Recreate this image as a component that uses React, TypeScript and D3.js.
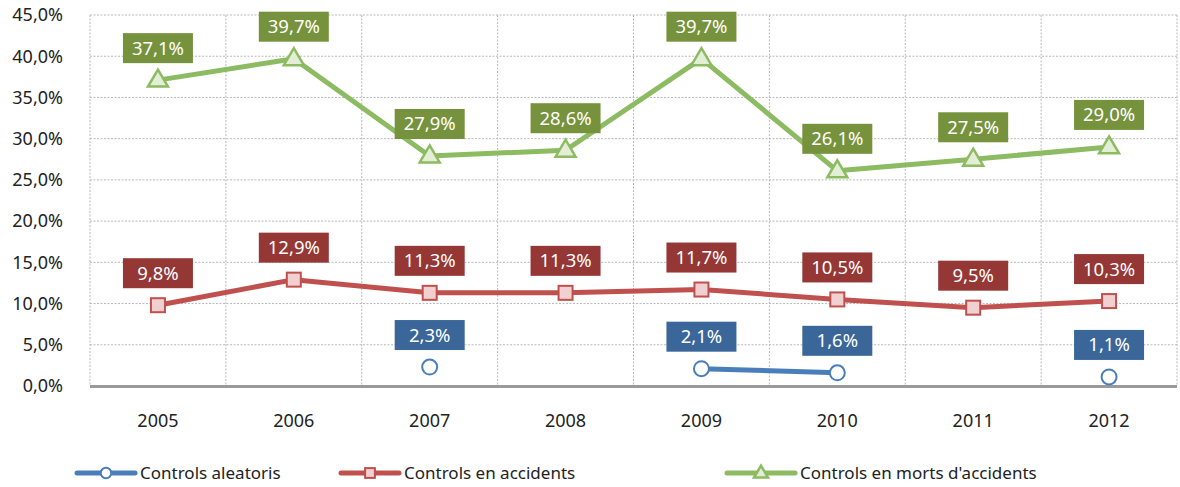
import { useEffect, useRef } from "react";
import * as d3 from "d3";

const years = ["2005", "2006", "2007", "2008", "2009", "2010", "2011", "2012"];
const aleatoris: (number | null)[] = [null, null, 2.3, null, 2.1, 1.6, null, 1.1];
const accidents: (number | null)[] = [9.8, 12.9, 11.3, 11.3, 11.7, 10.5, 9.5, 10.3];
const morts: (number | null)[] = [37.1, 39.7, 27.9, 28.6, 39.7, 26.1, 27.5, 29.0];
const yTicks = [0, 5, 10, 15, 20, 25, 30, 35, 40, 45];

const series = [
  { name: "Controls aleatoris", values: aleatoris, line: "#4a7ebb", box: "#3a6699", fill: "#ffffff", marker: "circle" },
  { name: "Controls en accidents", values: accidents, line: "#c0504d", box: "#953735", fill: "#f0d0d0", marker: "square" },
  { name: "Controls en morts d'accidents", values: morts, line: "#8cbb61", box: "#76923c", fill: "#e2eed6", marker: "triangle" },
];

const fmt = (v: number) => v.toFixed(1).replace(".", ",") + "%";
const FONT = "'Noto Sans', 'Open Sans', sans-serif";

function drawMarker(g: any, kind: string, x: number, y: number, stroke: string, fill: string, scale = 1) {
  if (kind === "circle") {
    g.append("circle").attr("cx", x).attr("cy", y).attr("r", 7.5 * scale)
      .attr("fill", fill).attr("stroke", stroke).attr("stroke-width", 2);
  } else if (kind === "square") {
    const s = 14 * scale;
    g.append("rect").attr("x", x - s / 2).attr("y", y - s / 2).attr("width", s).attr("height", s)
      .attr("fill", fill).attr("stroke", stroke).attr("stroke-width", 2);
  } else {
    const w = 20 * scale, h = 17 * scale;
    g.append("path")
      .attr("d", `M${x},${y - h * 0.62}L${x + w / 2},${y + h * 0.38}L${x - w / 2},${y + h * 0.38}Z`)
      .attr("fill", fill).attr("stroke", stroke).attr("stroke-width", 2.5).attr("stroke-linejoin", "miter");
  }
}

export default function App() {
  const ref = useRef<SVGSVGElement>(null);

  useEffect(() => {
    const svg = d3.select(ref.current);
    svg.selectAll("*").remove();

    const left = 90, right = 1177, top = 15, bottom = 386;
    const x = d3.scaleBand().domain(years).range([left, right]);
    const y = d3.scaleLinear().domain([0, 45]).range([bottom, top]);
    const cx = (d: string) => (x(d) as number) + x.bandwidth() / 2;

    // horizontal gridlines
    svg.append("g").selectAll("line").data(yTicks.filter((t) => t > 0)).enter().append("line")
      .attr("x1", left).attr("x2", right).attr("y1", (d) => y(d)).attr("y2", (d) => y(d))
      .attr("stroke", "#b8b8b8").attr("stroke-width", 1).attr("stroke-dasharray", "2,1.5");

    // vertical gridlines
    const vx = years.map((d) => x(d) as number).concat([right]);
    svg.append("g").selectAll("line").data(vx).enter().append("line")
      .attr("x1", (d) => d).attr("x2", (d) => d).attr("y1", top).attr("y2", bottom)
      .attr("stroke", "#b8b8b8").attr("stroke-width", 1).attr("stroke-dasharray", "2,1.5");

    // x axis line
    svg.append("line").attr("x1", left).attr("x2", right).attr("y1", bottom + 0.5).attr("y2", bottom + 0.5)
      .attr("stroke", "#9a9a9a").attr("stroke-width", 3);

    // y tick labels
    svg.append("g").selectAll("text").data(yTicks).enter().append("text")
      .attr("x", 63).attr("y", (d) => y(d)).attr("dy", "0.35em").attr("text-anchor", "end")
      .attr("font-family", FONT).attr("font-size", 18).attr("fill", "#222")
      .text((d) => fmt(d));

    // x tick labels
    svg.append("g").selectAll("text").data(years).enter().append("text")
      .attr("x", (d) => cx(d)).attr("y", 427).attr("text-anchor", "middle")
      .attr("font-family", FONT).attr("font-size", 18).attr("fill", "#222")
      .text((d) => d);

    const line = d3.line<number | null>()
      .defined((d) => d !== null)
      .x((_, i) => cx(years[i]))
      .y((d) => y(d as number));

    series.forEach((s) => {
      const g = svg.append("g");
      g.append("path").datum(s.values).attr("d", line as any)
        .attr("fill", "none").attr("stroke", s.line).attr("stroke-width", 5).attr("stroke-linejoin", "round");
      s.values.forEach((v, i) => {
        if (v === null) return;
        const px = cx(years[i]), py = y(v);
        drawMarker(g, s.marker, px, py, s.line, s.fill);
        const by = py - 32;
        g.append("rect").attr("x", px - 35).attr("y", by - 15).attr("width", 70).attr("height", 30).attr("fill", s.box);
        g.append("text").attr("x", px).attr("y", by).attr("dy", "0.35em").attr("text-anchor", "middle")
          .attr("font-family", FONT).attr("font-size", 18.5).attr("fill", "#fff").text(fmt(v));
      });
    });

    // legend
    const legend = [
      { x1: 77, x2: 135, tx: 140 },
      { x1: 341, x2: 399, tx: 404 },
      { x1: 727, x2: 795, tx: 800 },
    ];
    series.forEach((s, i) => {
      const l = legend[i];
      const ly = 473;
      const g = svg.append("g");
      g.append("line").attr("x1", l.x1).attr("x2", l.x2).attr("y1", ly).attr("y2", ly)
        .attr("stroke", s.line).attr("stroke-width", 5).attr("stroke-linecap", "round");
      drawMarker(g, s.marker, (l.x1 + l.x2) / 2, ly, s.line, s.fill, 0.7);
      g.append("text").attr("x", l.tx).attr("y", ly).attr("dy", "0.35em")
        .attr("font-family", FONT).attr("font-size", 17).attr("fill", "#222").text(s.name);
    });
  }, []);

  return (
    <svg ref={ref} width={1180} height={487} style={{ position: "absolute", left: 0, top: 0, background: "#fff" }} />
  );
}
